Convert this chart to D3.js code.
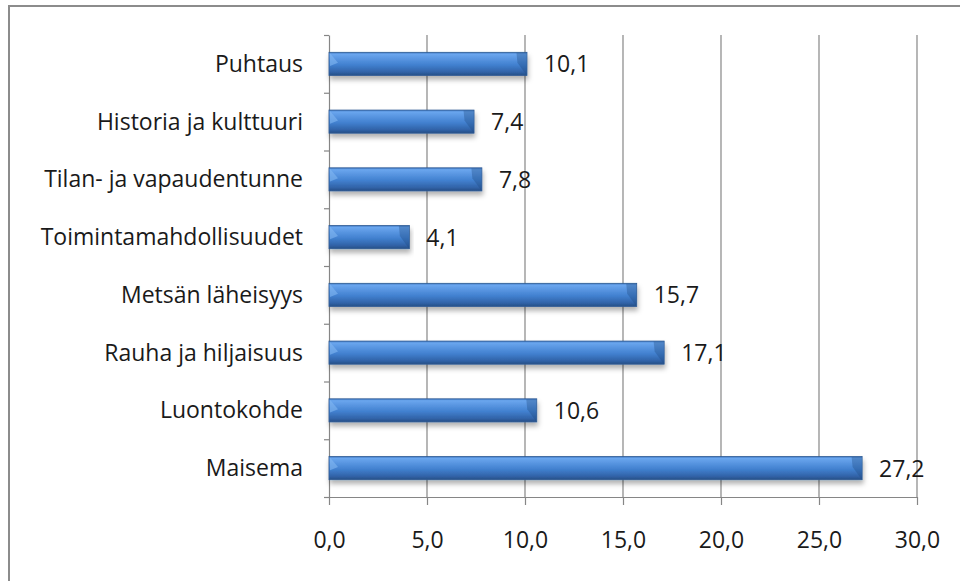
<!DOCTYPE html>
<html>
<head>
<meta charset="utf-8">
<script src="https://cdn.jsdelivr.net/npm/d3@7"></script>
<style>
  html, body { margin: 0; padding: 0; background: #fff; }
  svg text { font-family: "Open Sans", "Noto Sans", sans-serif; fill: #1a1a1a; }
</style>
</head>
<body>
<div id="root"></div>
<script>
// Chart data (top to bottom)
const categories = [
  "Puhtaus",
  "Historia ja kulttuuri",
  "Tilan- ja vapaudentunne",
  "Toimintamahdollisuudet",
  "Metsän läheisyys",
  "Rauha ja hiljaisuus",
  "Luontokohde",
  "Maisema",
];
const values = [10.1, 7.4, 7.8, 4.1, 15.7, 17.1, 10.6, 27.2];
const xTicks = [0, 5, 10, 15, 20, 25, 30];

const fmt = (v) => v.toFixed(1).replace(".", ",");

function drawChart() {
  const fullWidth = 960;
  const fullHeight = 581;
  const margin = { top: 35, left: 329, right: 43, bottom: 84 };
  const innerWidth = fullWidth - margin.left - margin.right; // 588
  const innerHeight = fullHeight - margin.top - margin.bottom; // 462
  const gridColor = "#868686";

  const data = categories.map((name, i) => ({ name, value: values[i] }));

  const svg = d3
    .select("#root")
    .append("svg")
    .attr("width", fullWidth)
    .attr("height", fullHeight);

  // Outer chart border
  svg
    .append("rect")
    .attr("x", 9)
    .attr("y", 6)
    .attr("width", fullWidth + 10)
    .attr("height", fullHeight + 10)
    .attr("fill", "none")
    .attr("stroke", "#8c8c8c")
    .attr("stroke-width", 2);

  // Defs: bar gradient and shadow
  const defs = svg.append("defs");
  const grad = defs
    .append("linearGradient")
    .attr("id", "barGrad")
    .attr("x1", 0)
    .attr("y1", 0)
    .attr("x2", 0)
    .attr("y2", 1);
  [
    [0, "#3f78c2"],
    [0.08, "#6aa6ee"],
    [0.25, "#5b98e3"],
    [0.55, "#4180cf"],
    [0.85, "#3163a8"],
    [1, "#264f86"],
  ].forEach(([o, c]) => grad.append("stop").attr("offset", o).attr("stop-color", c));

  const shadow = defs
    .append("filter")
    .attr("id", "shadow")
    .attr("x", "-5%")
    .attr("y", "-20%")
    .attr("width", "110%")
    .attr("height", "180%");
  shadow
    .append("feDropShadow")
    .attr("dx", 1)
    .attr("dy", 4)
    .attr("stdDeviation", 2.5)
    .attr("flood-color", "#000")
    .attr("flood-opacity", 0.3);

  const chartGroup = svg
    .append("g")
    .attr("transform", `translate(${margin.left},${margin.top})`);

  // Scales
  const xScale = d3.scaleLinear().domain([0, 30]).range([0, innerWidth]);
  const yScale = d3
    .scaleBand()
    .domain(categories)
    .range([0, innerHeight])
    .paddingInner(0.6)
    .paddingOuter(0.3);
  const yIdx = d3
    .scaleLinear()
    .domain([0, categories.length])
    .range([0, innerHeight]);

  // Vertical gridlines
  chartGroup
    .selectAll(".grid")
    .data(xTicks.filter((t) => t > 0))
    .enter()
    .append("line")
    .attr("class", "grid")
    .attr("x1", (d) => xScale(d))
    .attr("x2", (d) => xScale(d))
    .attr("y1", 0)
    .attr("y2", innerHeight)
    .attr("stroke", gridColor)
    .attr("stroke-width", 1.2);

  // X axis
  const xAxis = d3
    .axisBottom(xScale)
    .tickValues(xTicks)
    .tickFormat(fmt)
    .tickSizeInner(8)
    .tickSizeOuter(0)
    .tickPadding(12);
  const gx = chartGroup
    .append("g")
    .attr("transform", `translate(0,${innerHeight})`)
    .call(xAxis);
  gx.select(".domain").attr("stroke", gridColor).attr("stroke-width", 1.2);
  gx.selectAll(".tick line").attr("stroke", gridColor).attr("stroke-width", 1.2);
  gx.selectAll(".tick text")
    .attr("y", 51)
    .attr("dy", 0)
    .style("font-size", "23px")
    .style("font-family", "'Open Sans', 'Noto Sans', sans-serif")
    .attr("fill", "#1a1a1a");

  // Y axis (ticks at category boundaries)
  const yAxis = d3
    .axisLeft(yIdx)
    .tickValues(d3.range(0, categories.length + 1))
    .tickFormat("")
    .tickSizeInner(5)
    .tickSizeOuter(0);
  const gy = chartGroup.append("g").call(yAxis);
  gy.select(".domain").attr("stroke", gridColor).attr("stroke-width", 1.2);
  gy.selectAll(".tick line").attr("stroke", gridColor).attr("stroke-width", 1.2);

  // Category labels
  chartGroup
    .selectAll(".cat-label")
    .data(data)
    .enter()
    .append("text")
    .attr("class", "cat-label")
    .attr("x", -26)
    .attr("y", (d) => yScale(d.name) + yScale.bandwidth() / 2)
    .attr("dy", "0.35em")
    .attr("text-anchor", "end")
    .style("font-size", "23px")
    .text((d) => d.name);

  // Bars
  const bars = chartGroup
    .selectAll(".bar")
    .data(data)
    .enter()
    .append("g")
    .attr("class", "bar");

  bars
    .append("rect")
    .attr("x", xScale(0))
    .attr("y", (d) => yScale(d.name))
    .attr("width", (d) => xScale(d.value) - xScale(0))
    .attr("height", yScale.bandwidth())
    .attr("fill", "url(#barGrad)")
    .attr("stroke", "#2d5a93")
    .attr("stroke-width", 0.8)
    .attr("filter", "url(#shadow)");

  // Left end bevel (lighter wedge)
  bars
    .append("path")
    .attr("d", (d) => {
      const x0 = xScale(0) + 1;
      const y0 = yScale(d.name) + 1;
      const h = yScale.bandwidth() - 2;
      return `M${x0},${y0}L${x0 + 8},${y0 + h * 0.45}L${x0},${y0 + h * 0.6}Z`;
    })
    .attr("fill", "#82b7f2")
    .attr("opacity", 0.6);

  // Right end bevel (darker wedge)
  bars
    .append("path")
    .attr("d", (d) => {
      const x1 = xScale(d.value) - 0.5;
      const y0 = yScale(d.name) + 0.5;
      const h = yScale.bandwidth() - 1;
      return `M${x1 - 10},${y0}L${x1},${y0}L${x1},${y0 + h}L${x1 - 9},${y0 + h * 0.45}Z`;
    })
    .attr("fill", "#1f4a82")
    .attr("opacity", 0.35);

  // Value labels
  chartGroup
    .selectAll(".val-label")
    .data(data)
    .enter()
    .append("text")
    .attr("class", "val-label")
    .attr("x", (d) => xScale(d.value) + 17)
    .attr("y", (d) => yScale(d.name) + yScale.bandwidth() / 2)
    .attr("dy", "0.37em")
    .style("font-size", "23px")
    .text((d) => fmt(d.value));
}

drawChart();
</script>
</body>
</html>
